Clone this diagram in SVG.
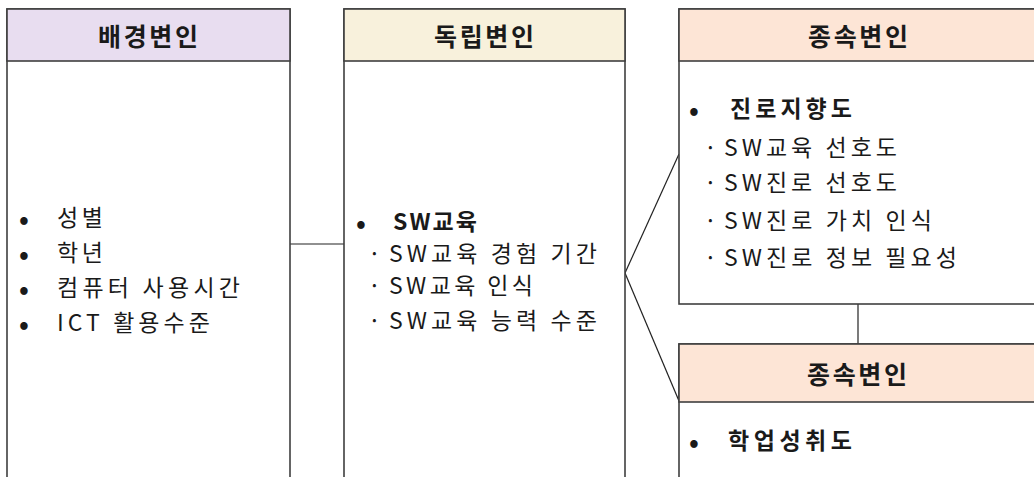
<svg xmlns="http://www.w3.org/2000/svg" width="1034" height="477" viewBox="0 0 1034 477">
<style>
.box{fill:#fff;stroke:#3f3f3f;stroke-width:1.6}
.hd{stroke:#3f3f3f;stroke-width:1.6}
.h1{fill:#e8ddf0}.h2{fill:#f8f1dc}.h3{fill:#fde5d6}
text{font-family:"Noto Sans CJK KR","Noto Sans",sans-serif;fill:#1a1a1a;dominant-baseline:central}
.ht{font-size:25px;font-weight:700;text-anchor:middle}
.t{font-size:23px;font-weight:400}
.b{font-size:23px;font-weight:700}
.bul{font-size:26px;font-weight:700}
.conn{stroke:#222;stroke-width:1.2;fill:none}
</style>
<g id="connectors">
<line class="conn" x1="290" y1="244" x2="344" y2="244"/>
<line class="conn" x1="625" y1="273" x2="679" y2="154"/>
<line class="conn" x1="625" y1="273" x2="679" y2="401"/>
<line class="conn" x1="858" y1="304" x2="858" y2="344"/>
</g>
<g id="node-background">
<rect class="box" x="7" y="9" width="283" height="490"/>
<rect class="h1 hd" x="7" y="9" width="283" height="52"/>
<text class="ht" x="148" y="35" textLength="100">배경변인</text>
<text class="bul" x="19" y="217">•</text><text class="t" x="57" y="216" textLength="46">성별</text>
<text class="bul" x="19" y="252">•</text><text class="t" x="57" y="251" textLength="46">학년</text>
<text class="bul" x="19" y="287">•</text><text class="t" x="57" y="286" textLength="183">컴퓨터 사용시간</text>
<text class="bul" x="19" y="322">•</text><text class="t" x="57" y="321" textLength="153">ICT 활용수준</text>
</g>
<g id="node-independent">
<rect class="box" x="344" y="9" width="281" height="490"/>
<rect class="h2 hd" x="344" y="9" width="281" height="52"/>
<text class="ht" x="484" y="35" textLength="100">독립변인</text>
<text class="bul" x="356" y="221">•</text><text class="b" x="393" y="220" textLength="84">SW교육</text>
<text class="t" x="368" y="252">·</text><text class="t" x="389" y="252" textLength="208">SW교육 경험 기간</text>
<text class="t" x="368" y="284">·</text><text class="t" x="389" y="284" textLength="144">SW교육 인식</text>
<text class="t" x="368" y="319">·</text><text class="t" x="389" y="319" textLength="208">SW교육 능력 수준</text>
</g>
<g id="node-dependent-career">
<rect class="box" x="679" y="9" width="365" height="295"/>
<rect class="h3 hd" x="679" y="9" width="365" height="52"/>
<text class="ht" x="858" y="35" textLength="100">종속변인</text>
<text class="bul" x="689" y="108">•</text><text class="b" x="730" y="107" textLength="122">진로지향도</text>
<text class="t" x="704" y="146">·</text><text class="t" x="724" y="146" textLength="173">SW교육 선호도</text>
<text class="t" x="704" y="181">·</text><text class="t" x="724" y="181" textLength="173">SW진로 선호도</text>
<text class="t" x="704" y="219">·</text><text class="t" x="724" y="219" textLength="208">SW진로 가치 인식</text>
<text class="t" x="704" y="256">·</text><text class="t" x="724" y="256" textLength="233">SW진로 정보 필요성</text>
</g>
<g id="node-dependent-achievement">
<rect class="box" x="679" y="344" width="365" height="160"/>
<rect class="h3 hd" x="679" y="344" width="365" height="58"/>
<text class="ht" x="857" y="373" textLength="100">종속변인</text>
<text class="bul" x="689" y="440">•</text><text class="b" x="728" y="439" textLength="124">학업성취도</text>
</g>
</svg>
